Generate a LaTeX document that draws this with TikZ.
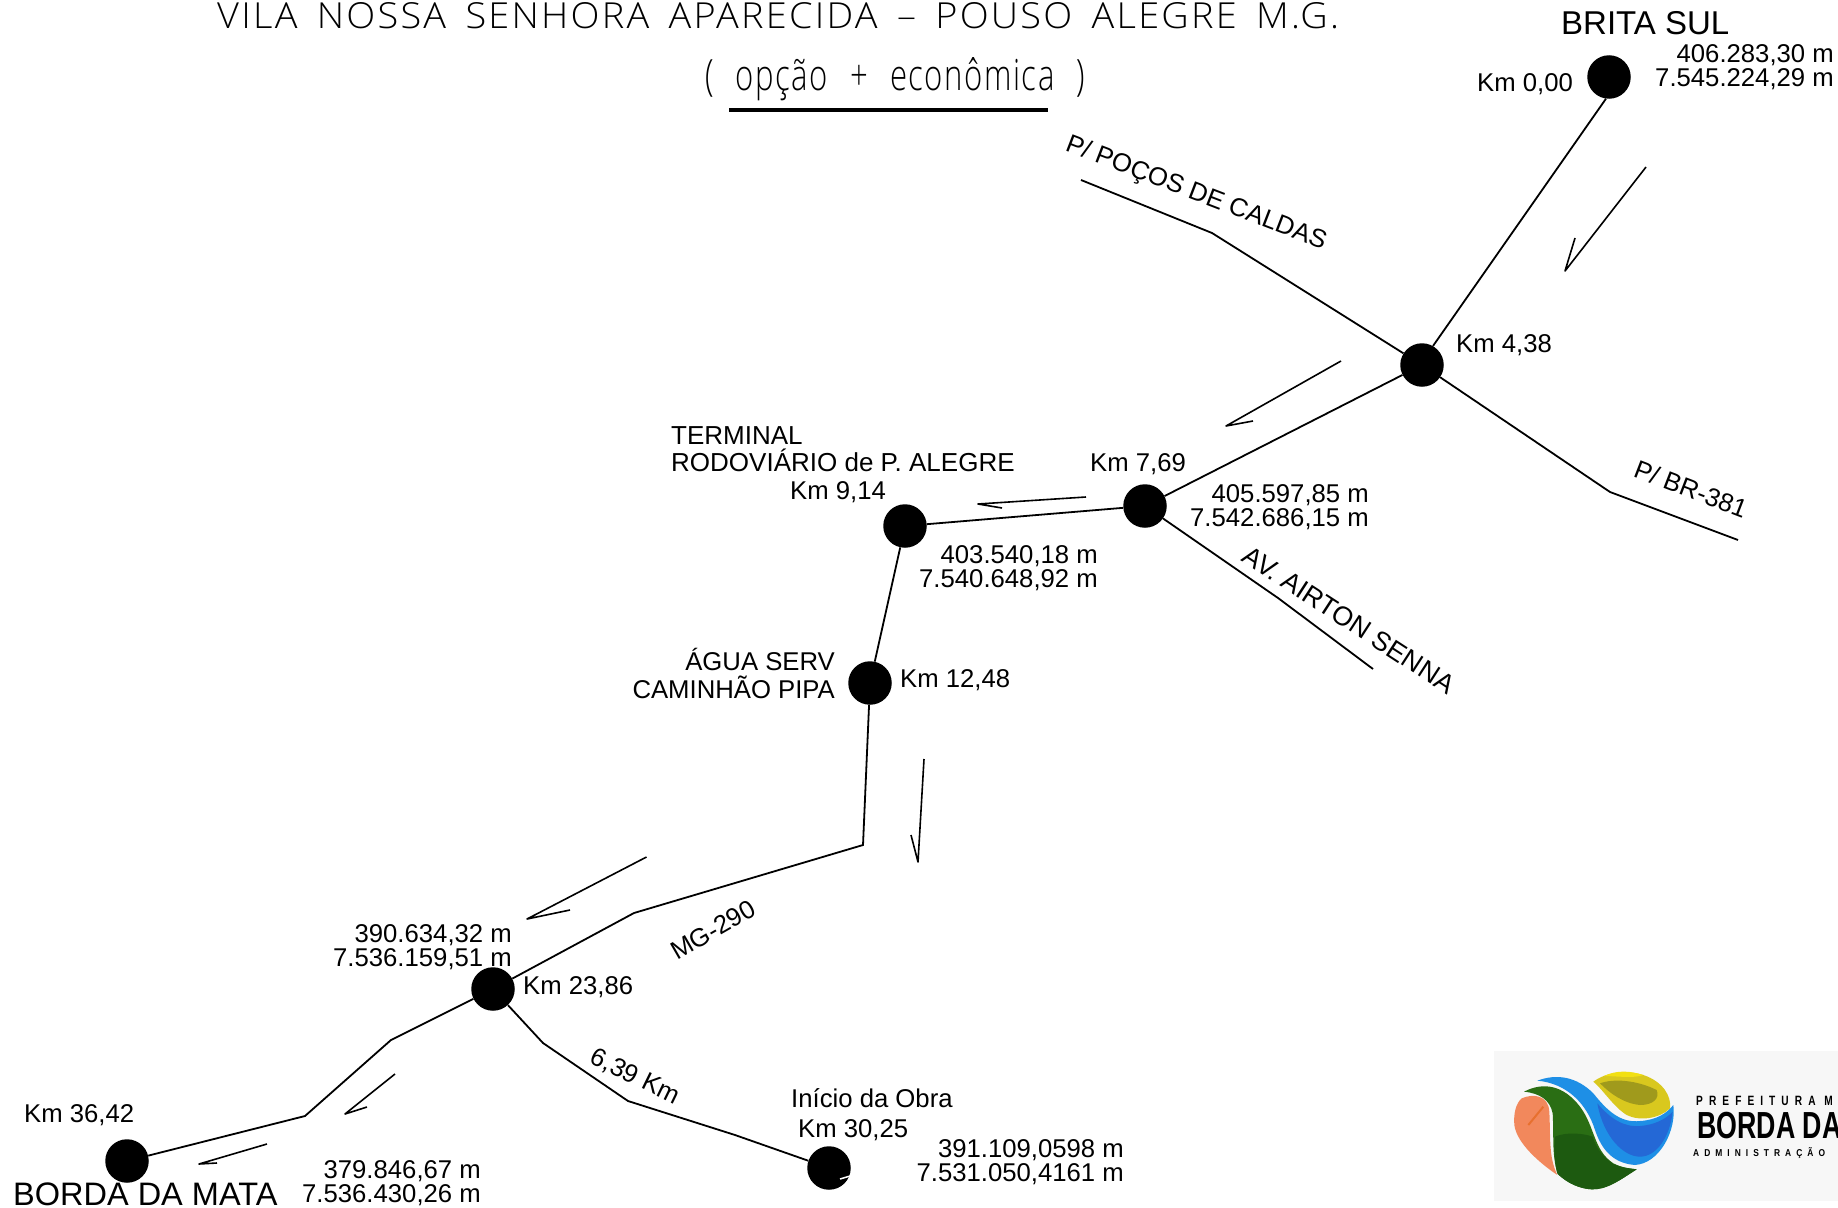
\documentclass[tikz,border=0pt]{standalone}
\usepackage{fontspec}
\usepackage{graphicx}
\setmainfont{Liberation Sans}
\newfontfamily\cadfont[LetterSpace=6,WordSpace=1.6]{Open Sans Light}
\newfontfamily\cadsub[LetterSpace=5,WordSpace=2.3]{Open Sans Light}
\newfontfamily\logofont[LetterSpace=60]{Liberation Sans Bold}
\newfontfamily\logobig{Liberation Sans Bold}
\definecolor{lgOrange}{HTML}{F2885C}
\definecolor{lgOrangeD}{HTML}{E8702F}
\definecolor{lgGreen}{HTML}{2A6E14}
\definecolor{lgGreenD}{HTML}{1D5A10}
\definecolor{lgBlue}{HTML}{1E8FE6}
\definecolor{lgBlueD}{HTML}{2468D6}
\definecolor{lgYellow}{HTML}{D9C81E}
\definecolor{lgOlive}{HTML}{A09A1C}
\definecolor{lgBright}{HTML}{F2E012}
\tikzset{
  road/.style={line width=1.8pt,line join=miter},
  flow/.style={line width=1.6pt,line join=round},
  stop/.style={circle,fill=black,inner sep=0pt,minimum size=43.5pt},
  lab/.style={inner sep=0pt,font=\fontsize{25.7}{24}\selectfont},
  coords/.style={lab,align=right,anchor=base east},
}
\begin{document}
\begin{tikzpicture}[x=1pt,y=-1pt]
\useasboundingbox (0,0) rectangle (1838,1207);
% ---- stops
\node[stop] (brita) at (1609,77) {};
\node[stop] (k438) at (1422,365) {};
\node[stop] (k769) at (1145,506) {};
\node[stop] (k914) at (905,526) {};
\node[stop] (k1248) at (870,683) {};
\node[stop] (k2386) at (493,989) {};
\node[stop] (borda) at (127,1161) {};
\node[stop] (inicio) at (829,1168) {};
% ---- way points
\coordinate (pc1) at (1212,233);
\coordinate (pc2) at (1081,180);
\coordinate (br1) at (1610,492);
\coordinate (br2) at (1738,540);
\coordinate (av1) at (1278,598);
\coordinate (av2) at (1373,669);
\coordinate (mg1) at (863,845);
\coordinate (mg2) at (634,913);
\coordinate (bm1) at (391,1040);
\coordinate (bm2) at (305,1116);
\coordinate (ob1) at (543,1043);
\coordinate (ob2) at (628,1101);
\coordinate (ob3) at (735,1135);
% ---- roads
\draw[road] (brita.262) -- (k438.60);
\draw[road] (k438) -- (k769);
\draw[road] (k769) -- (k914);
\draw[road] (k914) -- (k1248);
\draw[road] (k1248) -- (mg1) -- (mg2) -- (k2386);
\draw[road] (k2386) -- (bm1) -- (bm2) -- (borda);
\draw[road] (k2386) -- (ob1) -- (ob2) -- (ob3) -- (inicio);
\draw[road] (k438) -- (pc1) -- (pc2);
\draw[road] (k438) -- (br1) -- (br2);
\draw[road] (k769) -- (av1) -- (av2);
\draw[white,line width=1.5pt] (840,1179) -- (850,1176);
% ---- flow arrows
\coordinate (a1s) at (1646,167); \coordinate (a1t) at (1565,271); \coordinate (a1b) at (1575,238);
\coordinate (a2s) at (1341,361); \coordinate (a2t) at (1226,426); \coordinate (a2b) at (1253,421);
\coordinate (a3s) at (1086,497); \coordinate (a3t) at (978,504);  \coordinate (a3b) at (1002,508);
\coordinate (a4s) at (924,759);  \coordinate (a4t) at (918,862);  \coordinate (a4b) at (911,835);
\coordinate (a5s) at (646.5,857);  \coordinate (a5t) at (527,919);  \coordinate (a5b) at (570,910);
\coordinate (a6s) at (395,1074); \coordinate (a6t) at (345,1114); \coordinate (a6b) at (367,1107);
\coordinate (a7s) at (267,1144); \coordinate (a7t) at (199,1164); \coordinate (a7b) at (217,1163);
\foreach \n in {a1,a2,a3,a4,a5,a6,a7} \draw[flow] (\n s) -- (\n t) -- (\n b);
% ---- title
\node[inner sep=0pt,anchor=north west] (title) at (217,2) {\resizebox{1122pt}{26pt}{\cadfont VILA NOSSA SENHORA APARECIDA – POUSO ALEGRE M.G.}};
\node[inner sep=0pt,anchor=north west] (subtitle) at (705,57) {\resizebox{380pt}{33pt}{\cadsub ( opção + econômica )}};
\coordinate (ul1) at (729,110); \coordinate (ul2) at (1048,110);
\draw[line width=4.5pt] (ul1) -- (ul2);
% ---- labels
\node[lab,anchor=base west,font=\fontsize{33}{33}\selectfont] (lbrita) at (1561,35) {BRITA SUL};
\node[lab,anchor=base west] (l0) at (1477,91) {Km 0,00};
\node[coords] (c0) at (1834,86) {406.283,30 m\\7.545.224,29 m};
\node[lab,anchor=base west] (l438) at (1456,352) {Km 4,38};
\node[lab,anchor=base west] (l769) at (1090,471) {Km 7,69};
\node[coords] (c769) at (1369,526) {405.597,85 m\\7.542.686,15 m};
\node[lab,anchor=base west,font=\fontsize{26}{26.5}\selectfont,align=left] (lterm) at (671,471) {TERMINAL\\RODOVIÁRIO de P. ALEGRE};
\node[lab,anchor=base west] (l914) at (790,499) {Km 9,14};
\node[coords] (c914) at (1098,587) {403.540,18 m\\7.540.648,92 m};
\node[lab,anchor=base east,font=\fontsize{25.7}{27.5}\selectfont,align=right] (lagua) at (835,698) {ÁGUA SERV\\CAMINHÃO PIPA};
\node[lab,anchor=base west] (l1248) at (900,687) {Km 12,48};
\node[coords] (c2386) at (512,966) {390.634,32 m\\7.536.159,51 m};
\node[lab,anchor=base west] (l2386) at (523,994) {Km 23,86};
\node[lab,anchor=base west] (l3642) at (24,1122) {Km 36,42};
\node[lab,anchor=base west,font=\fontsize{32.5}{32.5}\selectfont] (lborda) at (13,1205) {BORDA DA MATA};
\node[coords] (c3642) at (481,1202) {379.846,67 m\\7.536.430,26 m};
\node[lab,anchor=base west] (lini) at (791,1107) {Início da Obra};
\node[lab,anchor=base west] (l3025) at (798,1137) {Km 30,25};
\node[coords] (cini) at (1124,1181) {391.109,0598 m\\7.531.050,4161 m};
% ---- road names
\node[lab,rotate=-21] (rpc) at (1196,194) {P/ POÇOS DE CALDAS};
\node[lab,rotate=-21] (rbr) at (1691,489) {P/ BR-381};
\node[lab,rotate=-33,font=\fontsize{26.8}{26.8}\selectfont] (rav) at (1349,620) {AV. AIRTON SENNA};
\node[lab,rotate=30] (rmg) at (713,930) {MG-290};
\node[lab,rotate=-26] (rkm) at (635,1077) {6,39 Km};
% ---- logo
\fill[black!3] (1494,1051) rectangle (1838,1201);
\begin{scope}[shift={(1480,1040)},x=0.3333pt,y=-0.3333pt]
\fill[lgOrange] (125,175) .. controls (160,160) and (205,165) .. (208,215) .. controls (212,290) and (205,350) .. (232,405) .. controls (180,370) and (110,310) .. (103,255) .. controls (100,220) and (108,190) .. (125,175) -- cycle;
\draw[lgOrangeD,line width=2pt] (145,255) -- (190,200);
\fill[lgGreen] (132,155) .. controls (190,125) and (250,135) .. (300,200) .. controls (345,260) and (340,330) .. (400,370) .. controls (430,385) and (450,385) .. (470,388) .. controls (420,420) and (380,450) .. (335,448) .. controls (280,445) and (240,410) .. (232,400) .. controls (215,340) and (222,290) .. (218,220) .. controls (210,180) and (180,160) .. (132,155) -- cycle;
\fill[lgGreenD] (225,290) .. controls (260,275) and (310,280) .. (338,290) .. controls (350,330) and (375,355) .. (400,372) .. controls (430,385) and (450,385) .. (470,388) .. controls (420,420) and (380,450) .. (335,448) .. controls (280,445) and (240,410) .. (232,400) .. controls (222,360) and (222,320) .. (225,290) -- cycle;
\fill[lgBlue] (172,122) .. controls (230,100) and (290,110) .. (340,160) .. controls (380,210) and (420,250) .. (480,243) .. controls (530,240) and (560,220) .. (580,195) .. controls (590,270) and (540,370) .. (465,375) .. controls (400,370) and (365,330) .. (345,270) .. controls (320,190) and (260,130) .. (172,122) -- cycle;
\fill[lgBlueD] (352,190) .. controls (390,235) and (430,262) .. (480,258) .. controls (520,255) and (555,240) .. (578,215) .. controls (570,290) and (530,350) .. (480,350) .. controls (430,350) and (370,290) .. (352,190) -- cycle;
\fill[lgYellow] (340,125) .. controls (380,95) and (440,90) .. (490,105) .. controls (550,125) and (575,170) .. (570,205) .. controls (540,235) and (480,245) .. (440,225) .. controls (400,200) and (370,150) .. (340,125) -- cycle;
\fill[lgOlive] (360,130) .. controls (400,115) and (470,120) .. (530,150) .. controls (540,175) and (520,195) .. (480,195) .. controls (430,190) and (390,160) .. (360,130) -- cycle;
\fill[lgBright] (372,108) .. controls (410,90) and (450,92) .. (490,105) .. controls (460,116) and (410,108) .. (372,108) -- cycle;
\end{scope}
\begin{scope}
\clip (1494,1051) rectangle (1838,1201);
\node[inner sep=0pt,anchor=base west] (lpref) at (1696,1105) {\scalebox{0.75}[1]{\logofont\fontsize{13.5}{13.5}\selectfont PREFEITURA M}};
\node[inner sep=0pt,anchor=base west] (lbd) at (1697,1138) {\scalebox{0.71}[1]{\logobig\fontsize{37.7}{37.7}\selectfont BORDA DA}};
\node[inner sep=0pt,anchor=base west] (ladm) at (1693,1156) {\scalebox{0.84}[1]{\logofont\fontsize{10}{10}\selectfont ADMINISTRAÇÃO}};
\end{scope}
\end{tikzpicture}
\end{document}
